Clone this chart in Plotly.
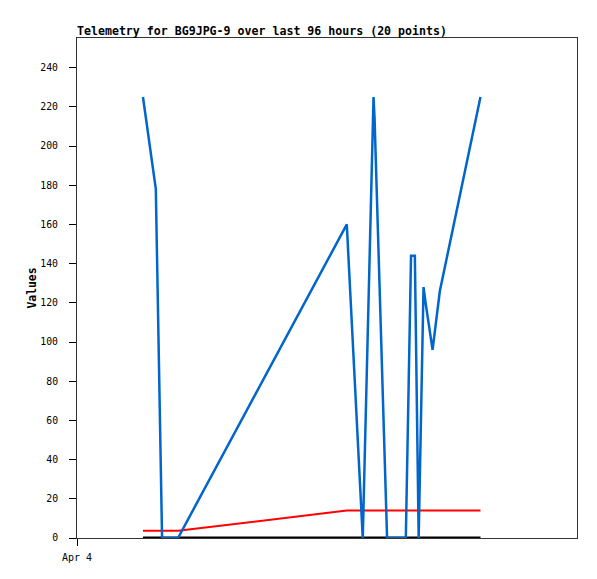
import plotly.graph_objects as go

times = [
    "2024-04-04 03:10", "2024-04-04 03:47", "2024-04-04 04:05", "2024-04-04 04:51",
    "2024-04-04 12:57", "2024-04-04 13:40", "2024-04-04 13:43", "2024-04-04 14:14",
    "2024-04-04 14:17", "2024-04-04 14:53", "2024-04-04 15:47", "2024-04-04 16:02",
    "2024-04-04 16:13", "2024-04-04 16:24", "2024-04-04 16:38", "2024-04-04 16:44",
    "2024-04-04 17:04", "2024-04-04 17:25", "2024-04-04 19:22",
]
blue_values = [225, 178, 0, 0, 160, 5, 0, 225, 214, 0, 0, 144, 144, 0, 128, 120, 96, 126, 225]
red_values = [3.7, 3.7, 3.7, 3.7, 14, 14, 14, 14, 14, 14, 14, 14, 14, 14, 14, 14, 14, 14, 14]
black_values = [0] * len(times)

title_text = "Telemetry for BG9JPG-9 over last 96 hours (20 points)"
y_title = "Values"
x_tick_vals = ["2024-04-04 00:00"]
x_tick_text = ["Apr 4"]
y_tick_vals = [0, 20, 40, 60, 80, 100, 120, 140, 160, 180, 200, 220, 240]

FONT = "DejaVu Sans Mono"

fig = go.Figure()
fig.add_trace(go.Scatter(x=times, y=black_values, mode="lines",
                         line=dict(color="#000000", width=3), showlegend=False))
fig.add_trace(go.Scatter(x=times, y=red_values, mode="lines",
                         line=dict(color="#FF0000", width=2), showlegend=False))
fig.add_trace(go.Scatter(x=times, y=blue_values, mode="lines",
                         line=dict(color="#0066CC", width=2.5), showlegend=False))

# page body has an 8px margin, so sizes are reduced accordingly
fig.update_layout(
    width=589, height=571,
    margin=dict(l=69, r=20, t=30, b=41),
    paper_bgcolor="white", plot_bgcolor="white",
    title=dict(text=title_text, x=0, xanchor="left", xref="paper",
               y=1, yref="paper", yanchor="bottom", pad=dict(b=3),
               font=dict(family=FONT, size=11.6, color="black", weight="bold")),
    font=dict(family=FONT, size=9.5, color="black"),
)

fig.update_xaxes(
    type="date", range=["2024-04-04 00:00", "2024-04-05 00:00"],
    tickvals=x_tick_vals, ticktext=x_tick_text,
    showgrid=False, zeroline=False,
    showline=True, linecolor="#333333", linewidth=1, mirror=True,
    ticks="outside", ticklen=7, tickcolor="#000000",
    ticklabelstandoff=3,
    tickfont=dict(family=FONT, size=10, color="black"),
)
fig.update_yaxes(
    range=[0, 255.1], tickvals=y_tick_vals,
    showgrid=False, zeroline=False,
    showline=True, linecolor="#333333", linewidth=1, mirror=True,
    ticks="outside", ticklen=7, tickcolor="#000000",
    ticklabelstandoff=9,
    tickfont=dict(family=FONT, size=9.8, color="black"),
    title=dict(text=y_title, standoff=1,
               font=dict(family=FONT, size=11.4, color="black", weight="bold")),
)

fig.write_html("out.html")
